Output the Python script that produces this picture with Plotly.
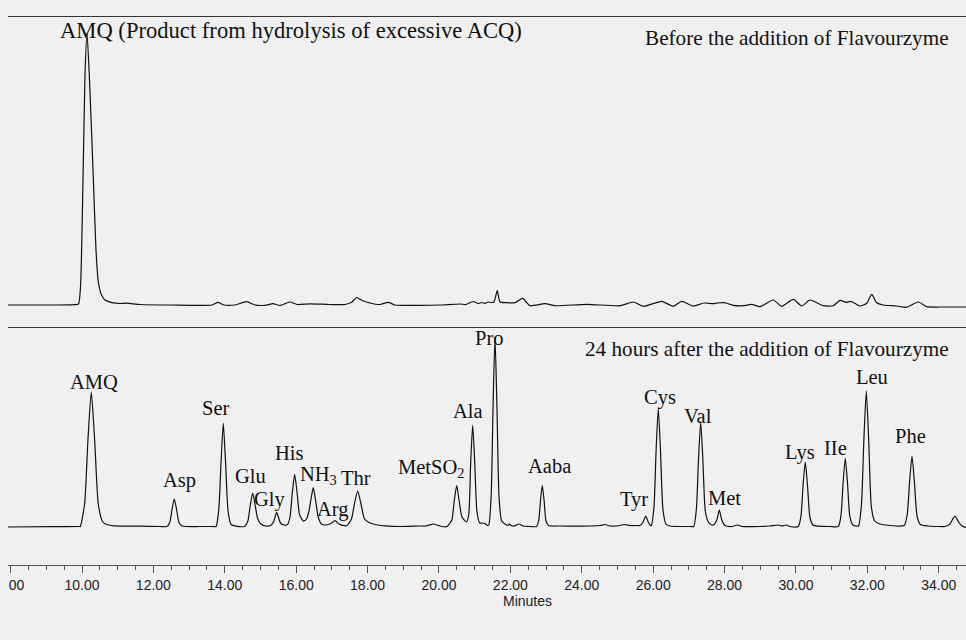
import plotly.graph_objects as go

# ---------------- data (retention time in minutes, detector signal in arbitrary units) -------------
top_time = [7.927, 9.104, 9.804, 9.902, 9.958, 10.034, 10.084, 10.140, 10.210, 10.308, 10.392, 10.462,
            10.546, 10.644, 10.840, 11.065, 11.252, 11.625, 12.465, 13.642, 13.810, 13.978, 14.286, 14.614,
            14.846, 15.126, 15.350, 15.547, 15.827, 16.023, 16.387, 16.947, 17.367, 17.563, 17.695, 17.844,
            18.068, 18.348, 18.580, 18.768, 19.468, 20.029, 20.589, 20.757, 20.953, 21.093, 21.205, 21.289,
            21.373, 21.477, 21.541, 21.634, 21.709, 21.878, 22.130, 22.345, 22.550, 22.970, 23.250, 24.138,
            25.071, 25.444, 25.724, 26.239, 26.564, 26.799, 27.124, 27.424, 27.685, 27.797, 27.993, 28.245,
            28.525, 28.760, 28.993, 29.365, 29.601, 29.926, 30.161, 30.394, 30.766, 31.046, 31.234, 31.402,
            31.542, 31.794, 31.982, 32.122, 32.262, 32.447, 32.822, 33.102, 33.427, 33.662, 34.035, 34.764]
top_signal = [0, 0, 0.3, 1, 18, 136, 230, 272, 225, 136, 55, 22,
              10, 5, 2.3, 1.5, 1.8, 0.5, 0, 0, 2.7, 0, 0, 3.3,
              0, -0.3, 1.3, -0.5, 3, 0.5, 1.2, 0.5, 0.5, 3, 7.5, 4.5,
              2, 0.5, 2.7, 0, -0.3, 0, 1, 0.5, 3.5, 1.5, 2.5, 1.5,
              3, 2.5, 3, 14.3, 3, 2.3, 2.3, 6.7, -0.7, 1.3, -0.7, 0.7,
              -0.7, 3, -1.3, 3.7, -1.3, 3.7, -1, 2, 1.3, 2, 2.3, -0.3,
              -0.7, 0.7, -1.7, 5, -1.3, 5.7, -1, 5, -0.7, -0.7, 4.7, 2.7,
              3.7, -1, 1.7, 10.7, 2.3, 0, -1, -2.3, 3, -1.7, -2, -2]

bottom_time = [7.927, 9.104, 9.944,
               9.955, 10.073, 10.165, 10.260, 10.356, 10.459, 10.583, 10.700, 10.896, 11.625, 12.185,
               12.381, 12.460, 12.524, 12.586, 12.647, 12.720, 12.804, 13.306, 13.642,
               13.754, 13.832, 13.897, 13.958, 14.020, 14.093, 14.177, 14.314,
               14.563, 14.647, 14.715, 14.782, 14.849, 14.925, 15.014, 15.154,
               15.280, 15.364, 15.412, 15.454, 15.496, 15.561, 15.659,
               15.757, 15.827, 15.891, 15.958, 16.026, 16.098, 16.205,
               16.289, 16.353, 16.412, 16.479, 16.547, 16.617, 16.709,
               16.835, 16.975, 17.087, 17.199, 17.339,
               17.423, 17.544, 17.634, 17.723, 17.813, 17.914, 18.040, 18.208, 18.488, 18.908, 19.468,
               19.608, 19.749, 19.841, 19.945, 20.085,
               20.225, 20.309, 20.362, 20.429, 20.496, 20.564, 20.645, 20.771,
               20.833, 20.889, 20.945, 21.001, 21.065, 21.141, 21.205, 21.289, 21.359,
               21.396, 21.463, 21.516, 21.569, 21.623, 21.684, 21.757, 21.850,
               21.934, 21.976, 22.018, 22.102, 22.242, 22.354, 22.550,
               22.735, 22.796, 22.844, 22.894, 22.945, 22.998, 23.068,
               23.390, 23.810, 24.231, 24.511, 24.651, 24.791, 25.071, 25.183, 25.351, 25.575,
               25.631, 25.721, 25.791, 25.861, 25.925,
               25.948, 26.023, 26.082, 26.144, 26.206, 26.273, 26.357, 26.472, 26.752, 27.032,
               27.136, 27.211, 27.270, 27.332, 27.393, 27.461, 27.545, 27.620,
               27.690, 27.783, 27.853, 27.923, 28.012,
               28.208, 28.368, 28.488, 28.993, 29.273, 29.497, 29.609, 29.721, 29.833,
               30.066, 30.141, 30.200, 30.262, 30.323, 30.391, 30.475, 30.618, 30.954,
               31.186, 31.262, 31.321, 31.382, 31.444, 31.511, 31.595, 31.682,
               31.752, 31.836, 31.903, 31.971, 32.038, 32.113, 32.206, 32.354, 32.634,
               32.915, 33.032, 33.116, 33.184, 33.251, 33.318, 33.394, 33.486, 33.699, 34.035,
               34.175, 34.315, 34.385, 34.455, 34.539, 34.651, 34.764]
bottom_signal = [0, 0.3, 0.5,
                 0.5, 23, 86, 135, 86, 22, 5, 2.5, 1.2, 0.8, 0.5,
                 0.5, 4.8, 18, 28, 18, 4.2, 1, 0.5, 0.5,
                 0.5, 17.6, 66, 103.7, 66, 15.5, 2.5, 0.8,
                 0.8, 6, 22, 34, 22, 8, 3, 1,
                 1.5, 5, 10.5, 14.7, 10.5, 4, 2,
                 2.5, 10, 34, 52.7, 34, 12, 6,
                 8, 15, 27, 39.3, 26, 10, 3,
                 2, 3.5, 6.3, 3, 1.3,
                 1.5, 7.5, 23.5, 36, 23.5, 8, 4.5, 2.5, 1.2, 0.5, 1,
                 1, 2.2, 3, 2, 0.5,
                 0.5, 4, 7, 26.5, 41.3, 26.5, 10, 5,
                 12, 65, 102, 65, 15, 4, 4, 3.5, 1.5,
                 2, 32, 122, 190, 122, 29, 6, 3,
                 1.5, 3, 1.5, 1, 3, 1, 0.5,
                 0.5, 7, 26.5, 41.3, 26.5, 6, 1.5,
                 1, 0.8, 1, 1.5, 2.5, 1, 1.5, 2.5, 1.5, 1.5,
                 1.5, 5, 11, 5, 1.5,
                 1.5, 20, 76, 118.7, 76, 18, 3, 1, 0.5, 0.5,
                 0.5, 18, 67, 105, 67, 16, 5, 2.5,
                 2, 7, 17, 7, 1.5,
                 0.5, 2, 0.5, 0.5, 1, 2, 1, 2, 0.5,
                 0.5, 11, 42, 65, 42, 10, 2, 0.8, 0.5,
                 0.5, 11.7, 44, 68.7, 44, 10.3, 2, 1,
                 1, 23, 87, 136, 87, 20, 6, 3, 1.5,
                 0.8, 1.5, 12, 45.4, 71, 45.4, 10.7, 2.5, 1, 0.5,
                 0.5, 3, 7.5, 11, 6, 1, -0.5]

peak_names = ["AMQ", "Asp", "Ser", "Glu", "Gly", "His", "NH<sub>3</sub>", "Arg", "Thr",
              "MetSO<sub>2</sub>", "Ala", "Pro", "Aaba", "Tyr", "Cys", "Val", "Met",
              "Lys", "IIe", "Leu", "Phe"]
label_time = [10.342, 12.745, 13.740, 14.715, 15.266, 15.821, 16.620, 17.031, 17.684,
              19.763, 20.824, 21.407, 23.110, 25.469, 26.192, 27.264, 27.993,
              30.127, 31.102, 32.122, 33.209]
label_signal = [145.3, 47, 119, 51.3, 28, 74, 51.3, 17.5, 48.7,
                58.2, 115.7, 189.5, 60.7, 28, 129.5, 111.5, 29.5,
                75, 79.2, 150, 90.7]

x_range = [7.927, 34.764]
BG = "#f0f0f0"
SERIF = "Liberation Serif, Times New Roman, serif"
SANS = "Liberation Sans, Arial, sans-serif"

fig = go.Figure()
fig.add_trace(go.Scatter(x=top_time, y=top_signal, mode="lines", xaxis="x2", yaxis="y2",
                         line=dict(color="#111111", width=1.2, shape="spline", smoothing=0.6),
                         hoverinfo="skip", showlegend=False))
fig.add_trace(go.Scatter(x=bottom_time, y=bottom_signal, mode="lines", xaxis="x", yaxis="y",
                         line=dict(color="#111111", width=1.2, shape="spline", smoothing=0.6),
                         hoverinfo="skip", showlegend=False))

split = 238 / 548
annotations = []
for name, t, s in zip(peak_names, label_time, label_signal):
    annotations.append(dict(x=t, y=s, xref="x", yref="y", text=name, showarrow=False,
                            xanchor="center", yanchor="middle",
                            font=dict(family=SERIF, size=20.5, color="#111111")))
annotations += [
    dict(x=(58 - 8) / 958, y=(565 - 30) / 548, xref="paper", yref="paper",
         text="AMQ (Product from hydrolysis of excessive ACQ)", showarrow=False,
         xanchor="left", yanchor="middle", font=dict(family=SERIF, size=22.6, color="#111111")),
    dict(x=(951 - 8) / 958, y=(565 - 38.3) / 548, xref="paper", yref="paper",
         text="Before the addition of Flavourzyme", showarrow=False,
         xanchor="right", yanchor="middle", font=dict(family=SERIF, size=21.2, color="#111111")),
    dict(x=(950.5 - 8) / 958, y=(565 - 349.2) / 548, xref="paper", yref="paper",
         text="24 hours after the addition of Flavourzyme", showarrow=False,
         xanchor="right", yanchor="middle", font=dict(family=SERIF, size=21.2, color="#111111")),
    dict(x=(527.5 - 8) / 958, y=(565 - 601) / 548, xref="paper", yref="paper",
         text="Minutes", showarrow=False, xanchor="center", yanchor="middle",
         font=dict(family=SANS, size=14, color="#222222")),
]

fig.update_layout(
    width=966, height=640,
    margin=dict(l=8, r=0, t=17, b=75),
    paper_bgcolor=BG, plot_bgcolor=BG,
    showlegend=False,
    xaxis=dict(domain=[0, 1], anchor="y", range=x_range, showgrid=False, zeroline=False,
               automargin=False,
               showline=True, linecolor="#555555", linewidth=1.3,
               ticks="outside", ticklen=7, tickwidth=1, tickcolor="#555555",
               tick0=0, dtick=2, tickformat=".2f", ticklabeloverflow="allow",
               tickfont=dict(family=SANS, size=14, color="#222222"),
               minor=dict(ticks="outside", ticklen=4, dtick=0.5, tick0=0, tickcolor="#555555",
                          tickwidth=1, showgrid=False)),
    xaxis2=dict(domain=[0, 1], anchor="y2", matches="x", range=x_range, showgrid=False,
                automargin=False,
                zeroline=False, showline=True, mirror=True, linecolor="#333333", linewidth=1.3,
                ticks="", showticklabels=False),
    yaxis=dict(domain=[0, split], range=[-38, 200], visible=False),
    yaxis2=dict(domain=[split, 1], range=[-22, 288], visible=False),
    annotations=annotations,
    shapes=[dict(type="rect", xref="paper", yref="paper", x0=-8 / 958, x1=0, y0=-0.2, y1=-0.004,
                 fillcolor=BG, line=dict(width=0), layer="above")],
)

fig.write_html("out.html")
